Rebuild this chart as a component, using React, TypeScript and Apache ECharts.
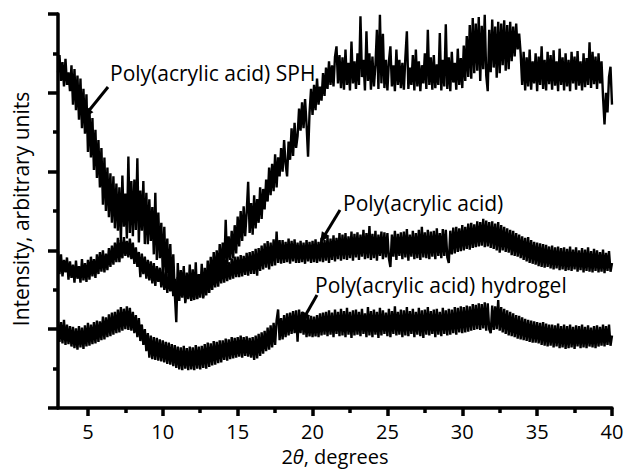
import React, { useEffect, useRef } from "react";
import * as echarts from "echarts";

// 2θ sampling grid of the scans (degrees)
const thetaStart = 3;
const thetaStep = 0.1;

// Poly(acrylic acid) SPH (arbitrary units), 3.0 … 40.0 in 0.1° steps, one row per degree
const sphIntensity = [
  42.6, 44.8, 41.5, 43.9, 40.8, 44.3, 41.0, 42.6, 40.2, 43.5,
  38.5, 43.0, 37.8, 42.2, 36.6, 41.8, 35.5, 40.5, 34.8, 39.8,
  32.5, 38.0, 31.8, 36.8, 30.2, 35.3, 29.2, 34.0, 28.0, 33.0,
  25.8, 31.8, 25.0, 30.5, 24.2, 29.8, 23.5, 29.4, 22.8, 28.5,
  22.5, 28.0, 21.2, 29.5, 23.0, 27.2, 21.5, 31.9, 22.2, 28.8,
  21.8, 29.0, 22.6, 31.7, 21.0, 27.6, 22.5, 28.8, 20.8, 27.3,
  20.8, 26.5, 21.2, 25.5, 19.5, 27.3, 18.8, 24.8, 19.0, 23.5,
  17.0, 23.0, 16.5, 21.5, 15.8, 20.8, 15.2, 19.5, 14.5, 10.9,
  18.4, 14.2, 17.5, 14.8, 18.0, 13.3, 17.2, 14.0, 18.2, 13.8,
  17.6, 13.9, 18.5, 13.8, 17.0, 14.5, 18.3, 13.9, 17.8, 14.6,
  18.7, 15.0, 19.2, 15.8, 19.8, 16.2, 20.0, 16.5, 20.8, 17.2,
  21.0, 17.5, 23.9, 18.2, 21.8, 18.8, 22.5, 19.0, 23.2, 19.6,
  24.3, 20.5, 25.0, 21.2, 25.6, 21.8, 24.8, 28.7, 22.2, 26.0,
  22.0, 27.0, 22.8, 26.5, 23.5, 28.0, 24.0, 27.8, 25.2, 29.0,
  26.2, 30.5, 27.0, 31.0, 27.5, 32.2, 28.0, 31.8, 29.4, 33.0,
  30.0, 34.0, 31.0, 29.4, 33.8, 31.5, 35.5, 32.0, 36.2, 33.0,
  34.5, 38.0, 35.2, 38.8, 35.5, 39.2, 36.0, 31.9, 37.5, 40.5,
  37.2, 41.0, 37.8, 41.8, 38.5, 40.8, 39.0, 42.5, 39.6, 43.2,
  40.5, 44.0, 41.0, 43.5, 40.8, 44.6, 45.9, 41.2, 44.8, 40.6,
  44.5, 40.4, 45.5, 41.0, 43.8, 40.3, 46.5, 41.2, 44.0, 40.5,
  45.0, 41.0, 49.7, 42.0, 44.2, 40.3, 47.8, 41.5, 45.0, 40.4,
  44.6, 40.8, 43.5, 48.0, 40.5, 49.9, 41.2, 47.5, 40.6, 44.2,
  40.3, 44.0, 45.9, 40.8, 43.5, 40.2, 45.5, 41.0, 44.2, 40.6,
  43.8, 40.4, 44.5, 47.8, 40.5, 43.2, 41.0, 44.8, 40.3, 45.5,
  40.8, 44.0, 40.2, 43.5, 41.2, 45.0, 40.5, 48.0, 41.0, 44.5,
  40.4, 44.8, 40.6, 43.6, 41.0, 47.6, 40.3, 44.2, 40.8, 48.7,
  40.5, 44.5, 40.2, 45.2, 41.3, 43.8, 40.4, 45.6, 41.0, 44.4,
  40.6, 46.0, 41.5, 47.2, 42.0, 48.6, 41.8, 49.5, 42.5, 48.8,
  42.8, 49.6, 41.5, 48.5, 43.0, 49.9, 42.2, 40.2, 48.0, 42.6,
  49.3, 43.2, 48.4, 41.9, 49.0, 42.5, 48.8, 43.5, 49.2, 42.8,
  48.6, 43.0, 49.0, 44.0, 48.4, 44.6, 48.8, 45.5, 47.5, 45.0,
  41.0, 45.2, 40.3, 44.5, 40.8, 45.5, 40.4, 44.0, 41.2, 45.0,
  40.2, 44.6, 41.0, 45.9, 40.5, 44.2, 40.3, 45.2, 41.1, 44.8,
  40.4, 45.4, 40.9, 44.0, 40.2, 45.6, 41.0, 44.5, 40.3, 45.0,
  40.8, 44.2, 40.2, 45.2, 41.2, 44.6, 40.4, 45.3, 40.9, 44.0,
  40.3, 45.0, 40.7, 44.4, 41.0, 46.4, 40.6, 45.2, 41.1, 44.6,
  40.5, 45.0, 41.2, 44.0, 39.5, 36.0, 40.0, 37.5, 42.0, 43.3,
  38.5,
];

// Poly(acrylic acid)
const paaIntensity = [
  19.9, 17.0, 19.5, 16.7, 18.8, 17.2, 19.1, 16.3, 18.6, 16.5,
  18.2, 15.9, 18.7, 16.4, 18.0, 15.9, 18.9, 16.2, 18.4, 16.0,
  18.8, 16.3, 19.2, 16.7, 18.9, 16.5, 19.5, 17.0, 19.8, 17.3,
  20.0, 17.2, 19.6, 17.5, 20.3, 17.9, 20.6, 18.2, 21.0, 18.5,
  21.6, 18.5, 21.3, 19.0, 21.7, 19.3, 21.2, 19.1, 21.5, 18.9,
  21.0, 18.3, 20.4, 17.9, 19.8, 16.6, 19.6, 17.0, 19.2, 16.4,
  18.8, 16.2, 18.6, 15.8, 18.4, 15.5, 18.0, 16.0, 17.8, 15.3,
  17.6, 15.0, 17.2, 14.6, 17.0, 14.8, 16.8, 14.2, 16.4, 14.0,
  16.6, 13.6, 16.3, 14.0, 16.8, 13.5, 16.2, 13.8, 16.5, 13.6,
  16.4, 13.7, 16.8, 13.9, 16.5, 14.0, 17.0, 14.1, 16.9, 14.3,
  17.3, 14.6, 17.6, 15.0, 17.9, 15.3, 18.2, 15.4, 18.4, 15.8,
  18.6, 15.9, 18.8, 16.1, 18.5, 16.3, 19.0, 16.4, 19.2, 16.6,
  19.2, 16.6, 19.4, 16.7, 19.3, 16.9, 19.7, 16.8, 19.8, 17.0,
  19.9, 17.0, 20.2, 16.8, 20.3, 17.4, 20.6, 17.6, 20.9, 17.8,
  21.2, 17.6, 21.0, 18.0, 21.4, 18.1, 22.4, 18.4, 21.3, 18.3,
  21.3, 18.4, 21.1, 18.5, 21.5, 18.3, 21.2, 18.6, 21.4, 18.4,
  21.0, 18.4, 21.2, 18.5, 21.0, 18.3, 21.3, 18.6, 21.1, 18.4,
  21.2, 18.5, 21.4, 18.4, 21.1, 18.6, 21.6, 18.5, 21.3, 18.7,
  21.7, 18.4, 21.5, 18.8, 21.9, 18.6, 21.6, 18.9, 22.2, 18.7,
  22.0, 18.9, 22.2, 18.8, 21.8, 19.0, 22.4, 18.7, 22.1, 19.1,
  22.3, 18.8, 22.0, 19.2, 22.6, 18.9, 22.2, 19.0, 23.1, 18.8,
  22.1, 19.0, 22.5, 18.7, 22.0, 19.3, 22.4, 18.9, 22.3, 19.1,
  22.2, 19.0, 17.9, 22.0, 19.2, 22.5, 18.8, 22.1, 19.3, 22.3,
  18.9, 22.4, 19.1, 22.7, 18.7, 22.0, 19.2, 22.5, 18.9, 22.2,
  19.0, 22.6, 18.8, 23.0, 19.1, 22.3, 19.0, 22.6, 18.9, 22.4,
  19.2, 22.5, 18.9, 22.8, 19.3, 22.2, 19.0, 22.7, 19.3, 22.6,
  19.1, 18.4, 22.5, 19.5, 22.9, 19.6, 23.0, 19.8, 22.8, 19.9,
  23.2, 20.0, 23.0, 20.2, 23.4, 20.1, 23.5, 20.3, 23.3, 20.4,
  23.7, 20.5, 23.6, 20.6, 24.0, 20.4, 23.8, 20.5, 23.6, 20.3,
  23.7, 20.2, 23.4, 20.0, 23.6, 19.7, 23.2, 20.0, 23.0, 19.8,
  22.8, 19.7, 22.6, 19.4, 22.5, 19.3, 22.2, 19.2, 22.0, 19.0,
  21.8, 18.8, 21.6, 18.6, 21.7, 18.4, 21.3, 18.3, 21.1, 18.2,
  21.0, 18.0, 20.9, 17.9, 20.8, 17.8, 20.7, 17.9, 20.5, 17.7,
  20.6, 17.6, 20.4, 17.7, 20.5, 17.5, 20.3, 17.6, 20.4, 17.4,
  20.2, 17.5, 20.5, 17.4, 20.1, 17.6, 20.4, 17.3, 20.0, 17.5,
  20.3, 17.2, 20.1, 17.4, 20.4, 17.3, 19.9, 17.2, 20.2, 17.4,
  20.0, 17.2, 19.8, 17.3, 20.1, 17.1, 19.7, 17.4, 19.9, 17.3,
  18.4,
];

// Poly(acrylic acid) hydrogel
const hydrogelIntensity = [
  11.1, 8.4, 10.9, 8.2, 11.2, 8.0, 10.6, 8.1, 10.4, 7.8,
  10.3, 7.6, 10.1, 7.4, 10.4, 7.7, 10.2, 7.5, 10.5, 7.8,
  10.8, 7.9, 10.6, 8.1, 10.9, 8.2, 11.1, 8.4, 11.0, 8.6,
  11.6, 8.7, 11.5, 9.0, 11.9, 9.1, 12.1, 9.3, 12.2, 9.5,
  12.5, 9.6, 12.8, 9.8, 12.6, 10.0, 12.9, 9.9, 12.7, 9.8,
  12.2, 9.5, 11.8, 9.0, 11.4, 8.5, 10.6, 8.0, 10.0, 7.2,
  9.5, 6.4, 9.2, 6.2, 9.0, 6.1, 8.9, 6.0, 8.7, 5.9,
  8.6, 5.8, 8.4, 5.6, 8.3, 5.5, 8.1, 5.3, 8.0, 5.1,
  7.8, 4.9, 7.7, 4.8, 7.9, 5.0, 7.6, 4.8, 7.8, 4.9,
  7.7, 4.8, 8.0, 5.0, 7.8, 4.9, 7.9, 5.1, 8.1, 5.0,
  8.3, 5.2, 8.2, 5.4, 8.5, 5.5, 8.4, 5.7, 8.6, 5.8,
  8.6, 6.1, 8.8, 6.0, 8.7, 6.2, 9.0, 6.3, 8.9, 6.4,
  9.0, 6.5, 9.2, 6.4, 9.0, 6.6, 9.1, 6.5, 8.9, 6.4,
  9.0, 6.1, 9.2, 6.3, 9.4, 6.6, 9.6, 6.9, 9.8, 7.2,
  10.2, 7.4, 10.5, 7.7, 10.8, 8.0, 11.1, 12.5, 8.6, 11.4,
  8.7, 11.8, 9.0, 12.0, 9.2, 12.1, 9.4, 12.3, 9.5, 12.4,
  8.4, 12.5, 9.5, 12.2, 9.3, 11.8, 9.0, 11.6, 9.1, 11.7,
  9.0, 11.6, 9.1, 11.8, 9.0, 12.0, 9.2, 12.1, 9.3, 12.2,
  9.1, 12.4, 9.3, 12.1, 9.0, 12.5, 9.4, 12.2, 9.1, 12.6,
  9.2, 12.3, 9.0, 12.7, 9.3, 12.2, 8.9, 12.4, 9.2, 12.5,
  9.3, 12.2, 9.1, 12.6, 9.4, 12.0, 9.0, 12.8, 9.2, 12.3,
  9.0, 12.5, 9.3, 12.2, 8.9, 12.7, 9.2, 12.4, 9.4, 12.1,
  9.1, 12.6, 9.0, 12.3, 9.4, 12.9, 9.2, 12.2, 9.3, 12.5,
  9.0, 12.4, 9.2, 12.8, 9.1, 12.3, 9.4, 12.6, 9.0, 12.2,
  9.3, 12.7, 9.1, 12.4, 8.9, 12.5, 9.3, 12.8, 9.2, 12.3,
  9.4, 12.5, 9.0, 12.6, 9.3, 12.2, 9.1, 12.7, 9.4, 12.4,
  9.2, 12.6, 9.3, 12.5, 9.5, 12.8, 9.3, 12.7, 9.6, 12.9,
  9.5, 12.8, 9.6, 13.0, 9.7, 12.9, 9.8, 13.2, 9.9, 13.1,
  10.0, 13.3, 9.9, 13.2, 10.1, 13.4, 9.8, 13.3, 10.0, 9.5,
  13.0, 9.9, 12.9, 10.0, 13.7, 9.8, 12.8, 9.6, 12.6, 9.4,
  12.4, 9.2, 12.2, 9.1, 12.0, 9.0, 11.8, 8.8, 11.7, 8.7,
  11.5, 8.6, 11.3, 8.5, 11.2, 8.4, 11.1, 8.3, 11.0, 8.3,
  10.9, 8.2, 10.8, 8.0, 10.9, 7.9, 10.7, 7.8, 10.6, 7.9,
  10.6, 7.7, 10.5, 7.8, 10.7, 7.6, 10.4, 7.7, 10.6, 7.5,
  10.4, 7.6, 10.6, 7.7, 10.3, 7.5, 10.5, 7.8, 10.4, 7.6,
  10.6, 7.7, 10.3, 7.6, 10.5, 7.8, 10.2, 7.7, 10.4, 7.6,
  10.5, 7.8, 10.3, 7.9, 10.6, 7.8, 10.4, 8.0, 10.6, 7.9,
  9.2,
];

const xMajorTicks = [5, 10, 15, 20, 25, 30, 35, 40];
const xMinorTicks = [7.5, 12.5, 17.5, 22.5, 27.5, 32.5, 37.5];

const seriesNames = [
  "Poly(acrylic acid) SPH",
  "Poly(acrylic acid)",
  "Poly(acrylic acid) hydrogel",
];
const yAxisTitle = "Intensity, arbitrary units";

const FONT = "'Open Sans', 'Noto Sans', sans-serif";

function toPairs(values: number[]) {
  return values.map((v, i) => [Number((thetaStart + i * thetaStep).toFixed(1)), v]);
}

function arrow(x1: number, y1: number, x2: number, y2: number) {
  const dx = x2 - x1;
  const dy = y2 - y1;
  const len = Math.sqrt(dx * dx + dy * dy);
  const ux = dx / len;
  const uy = dy / len;
  const headLen = 11;
  const headW = 4.5;
  const bx = x2 - ux * headLen;
  const by = y2 - uy * headLen;
  return [
    {
      type: "line",
      shape: { x1, y1, x2: bx + ux * 2, y2: by + uy * 2 },
      style: { stroke: "#000", lineWidth: 3 },
      silent: true,
    },
    {
      type: "polygon",
      shape: {
        points: [
          [x2, y2],
          [bx - uy * headW, by + ux * headW],
          [bx + uy * headW, by - ux * headW],
        ],
      },
      style: { fill: "#000" },
      silent: true,
    },
  ];
}

export default function App() {
  const ref = useRef<HTMLDivElement>(null);

  useEffect(() => {
    document.body.style.margin = "0";
    if (!ref.current) return;
    const chart = echarts.init(ref.current, undefined, { renderer: "svg" });

    const label = (text: string, x: number, y: number) => ({
      type: "text",
      x,
      y,
      style: {
        text,
        fill: "#000",
        font: `21px ${FONT}`,
        textAlign: "left",
        textVerticalAlign: "middle",
      },
      silent: true,
    });

    chart.setOption({
      animation: false,
      backgroundColor: "#fff",
      grid: { left: 58, right: 14, top: 14, bottom: 66, outerBoundsMode: "none", containLabel: false },
      xAxis: [
        {
          type: "value",
          min: 3,
          max: 40,
          position: "bottom",
          axisLine: { show: true, onZero: false, lineStyle: { color: "#000", width: 3.5 } },
          axisTick: {
            show: true,
            customValues: xMajorTicks,
            length: 8,
            lineStyle: { color: "#000", width: 3.5 },
          },
          axisLabel: {
            show: true,
            customValues: xMajorTicks,
            color: "#000",
            fontSize: 20,
            lineHeight: 18,
            fontFamily: FONT,
            margin: 14,
          },
          splitLine: { show: false },
        },
        {
          type: "value",
          min: 3,
          max: 40,
          position: "bottom",
          offset: 0,
          axisLine: { show: false, onZero: false },
          axisTick: {
            show: true,
            customValues: xMinorTicks,
            length: 5,
            lineStyle: { color: "#000", width: 3.5 },
          },
          axisLabel: { show: false },
          splitLine: { show: false },
        },
      ],
      yAxis: {
        type: "value",
        min: 0,
        max: 50,
        interval: 10,
        axisLine: { show: true, onZero: false, lineStyle: { color: "#000", width: 3.5 } },
        axisTick: { show: true, length: 10, lineStyle: { color: "#000", width: 3.5 } },
        minorTick: { show: true, splitNumber: 2, length: 5, lineStyle: { color: "#000", width: 3.5 } },
        axisLabel: { show: false },
        splitLine: { show: false },
        minorSplitLine: { show: false },
      },
      series: [sphIntensity, paaIntensity, hydrogelIntensity].map((vals, i) => ({
        name: seriesNames[i],
        type: "line",
        xAxisIndex: 0,
        data: toPairs(vals),
        showSymbol: false,
        symbol: "none",
        lineStyle: { color: "#000", width: 2.4, join: "bevel" },
        silent: true,
      })),
      graphic: [
        {
          type: "text",
          x: 21,
          y: 209,
          rotation: Math.PI / 2,
          style: {
            text: yAxisTitle,
            fill: "#000",
            font: `21px ${FONT}`,
            textAlign: "center",
            textVerticalAlign: "middle",
          },
          silent: true,
        },
        {
          type: "text",
          x: 335,
          y: 456,
          style: {
            rich: {
              it: { fontStyle: "italic", fontSize: 20, lineHeight: 18, fontFamily: FONT, fill: "#000" },
              n: { fontSize: 20, lineHeight: 18, fontFamily: FONT, fill: "#000" },
            },
            text: "{n|2}{it|θ}{n|, degrees}",
            textAlign: "center",
            textVerticalAlign: "middle",
          },
          silent: true,
        },
        label(seriesNames[0], 110, 73),
        label(seriesNames[1], 343, 203),
        label(seriesNames[2], 315, 285),
        ...arrow(108, 87, 83, 118),
        ...arrow(340, 210, 320, 243),
        ...arrow(317, 295, 301, 323),
      ],
    });

    return () => chart.dispose();
  }, []);

  return <div ref={ref} style={{ width: 626, height: 474 }} />;
}
